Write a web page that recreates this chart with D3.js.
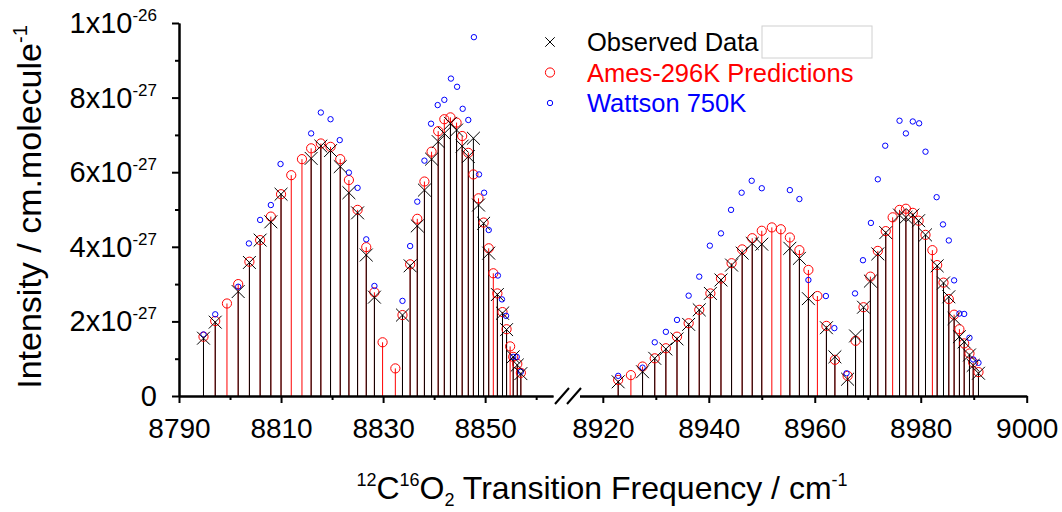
<!DOCTYPE html>
<html>
<head>
<meta charset="utf-8">
<script src="https://cdn.jsdelivr.net/npm/d3@7"></script>
<style>
    body { margin: 0; background: #fff; }
    svg { display: block; font-family: "Liberation Sans", Arial, sans-serif; }
</style>
</head>
<body>
<svg id="chart" width="1062" height="512"></svg>
<script>
// Line positions (cm-1) for the sticks
const freq = [
    8794.8, 8797.1, 8799.4, 8801.6, 8803.8, 8805.9, 8808.0, 8810.0, 8812.0, 8814.1,
    8815.9, 8817.8, 8819.7, 8821.6, 8823.3, 8825.0, 8826.7, 8828.3, 8829.9, 8832.4,
    8833.8, 8835.3, 8836.7, 8838.1, 8839.5, 8840.8, 8842.0, 8843.2, 8844.4, 8845.5,
    8846.7, 8847.7, 8848.7, 8849.7, 8850.7, 8851.6, 8852.4, 8853.4, 8854.2, 8854.9,
    8855.5, 8856.3, 8857.0,
    8922.9, 8925.3, 8927.5, 8929.8, 8931.9, 8934.0, 8936.2, 8938.2, 8940.3, 8942.3,
    8944.3, 8946.3, 8948.2, 8950.0, 8951.9, 8953.6, 8955.3, 8957.1, 8958.8, 8960.5,
    8962.2, 8963.8, 8966.2, 8967.7, 8969.2, 8970.5, 8971.9, 8973.4, 8974.7, 8976.0,
    8977.2, 8978.5, 8979.6, 8980.9, 8982.2, 8983.1, 8984.3, 8985.3, 8986.3, 8987.3,
    8988.2, 8989.2, 8989.9, 8990.9
];

// Observed intensities (x1e-27), null = not observed
const observed = [
    1.55, 1.98, null, 2.80, 3.58, 4.18, 4.67, 5.41, null, null,
    6.37, 6.70, 6.58, 6.15, 5.45, 4.91, 3.78, 2.65, null, null,
    2.17, 3.49, 4.56, 5.52, 6.35, 6.82, 7.04, 7.31, 7.13, 6.70,
    6.42, 6.91, 5.12, 4.63, 3.83, null, 2.72, 2.22, 1.78, null,
    1.05, 0.83, 0.60,
    0.38, null, 0.65, 1.01, 1.26, 1.53, 1.92, 2.31, 2.75, 3.11,
    3.51, 3.83, 4.09, 4.07, null, null, 3.96, 3.69, 2.61, null,
    1.83, 1.05, 0.45, 1.61, 2.38, 3.08, 3.81, 4.38, null, 4.85,
    4.79, 4.85, 4.70, 4.32, null, 3.49, 3.03, 2.66, 2.08, 1.59,
    1.45, 1.10, 0.82, 0.61
];

// Ames-296K predictions (x1e-27)
const ames = [
    1.59, 2.01, 2.48, 3.00, 3.60, 4.18, 4.81, 5.41, 5.92, 6.35,
    6.64, 6.77, 6.68, 6.35, 5.79, 4.99, 3.99, 2.78, 1.44, 0.74,
    2.17, 3.53, 4.75, 5.75, 6.55, 7.10, 7.42, 7.47, 7.33, 6.97,
    6.52, 5.94, 5.30, 4.65, 3.96, 3.29, 2.75, 2.25, 1.79, 1.33,
    1.05, 0.86, 0.62,
    0.43, 0.56, 0.79, 1.01, 1.28, 1.59, 1.95, 2.31, 2.75, 3.15,
    3.56, 3.93, 4.23, 4.43, 4.52, 4.47, 4.25, 3.91, 3.38, 2.68,
    1.88, 0.97, 0.54, 1.48, 2.38, 3.20, 3.89, 4.42, 4.79, 4.99,
    5.02, 4.91, 4.70, 4.32, 3.91, 3.51, 3.04, 2.60, 2.18, 1.79,
    1.41, 1.14, 0.90, 0.64
];

// Wattson 750K points (own positions)
const wattFreq = [
    8794.8, 8797.1, 8801.6, 8803.7, 8805.9, 8808.0, 8809.9, 8815.9, 8817.8, 8819.7,
    8821.5, 8823.3, 8825.0, 8826.7, 8828.3, 8833.8, 8835.3, 8836.7, 8838.1, 8839.4,
    8840.7, 8842.0, 8843.3, 8844.5, 8845.6, 8846.7, 8847.8, 8848.8, 8849.8, 8850.7,
    8852.5, 8853.3, 8854.1, 8855.5, 8856.2, 8857.0,
    8922.9, 8927.5, 8929.8, 8931.9, 8934.0, 8936.2, 8938.2, 8940.2, 8942.3, 8944.2,
    8946.2, 8948.1, 8950.0, 8955.3, 8957.1, 8958.8, 8962.1, 8963.7, 8966.0, 8967.6,
    8969.1, 8970.6, 8971.9, 8973.3, 8976.0, 8977.2, 8978.5, 8979.7, 8980.9, 8983.0,
    8984.2, 8985.3, 8986.3, 8987.3, 8988.2, 8989.2, 8989.9, 8990.9
];
const wattVal = [
    1.65, 2.19, 2.93, 4.09, 4.72, 5.12, 6.22, 7.04, 7.60, 7.42,
    6.86, 5.99, 5.58, 4.20, 2.95, 2.55, 4.02, 5.21, 6.31, 7.30,
    7.80, 7.94, 8.51, 8.29, 7.70, 7.40, 9.62, 5.94, 5.45, 4.45,
    3.23, 2.59, 2.15, 1.05, 1.05, 0.65,
    0.54, 0.76, 1.44, 1.72, 2.04, 2.69, 3.20, 4.03, 4.36, 4.99,
    5.45, 5.77, 5.57, 5.52, 5.28, 3.11, 2.68, 1.82, 0.61, 2.75,
    3.64, 4.64, 5.81, 6.71, 7.38, 7.04, 7.36, 7.31, 6.55, 5.33,
    4.60, 4.17, 3.10, 2.21, 2.20, 1.56, 0.98, 0.89
];

// Axis ticks
const xTicksLeft = [8790, 8810, 8830, 8850];
const xMinorLeft = [8800, 8820, 8840, 8860];
const xTicksRight = [8920, 8940, 8960, 8980, 9000];
const xMinorRight = [8930, 8950, 8970, 8990];
const yTicks = [0, 2, 4, 6, 8, 10];
const yMinor = [1, 3, 5, 7, 9];
const yTickBase = ['0', '2x10', '4x10', '6x10', '8x10', '1x10'];
const yTickExp = ['', '-27', '-27', '-27', '-27', '-26'];

const legendItems = [
    { label: 'Observed Data', color: '#000000', kind: 'cross' },
    { label: 'Ames-296K Predictions', color: '#ff0000', kind: 'big' },
    { label: 'Wattson 750K', color: '#0000ff', kind: 'small' }
];

const svg = d3.select('#chart');

// Broken x axis: two linear pieces
const xL = d3.scaleLinear().domain([8790, 8863.3]).range([179, 553]);
const xR = d3.scaleLinear().domain([8915.6, 9000]).range([579.5, 1026.7]);
const xPos = f => (f < 8880 ? xL(f) : xR(f));
const y = d3.scaleLinear().domain([0, 10]).range([396, 23]);

// Stems: red to Ames value, black to observed on top
const plot = svg.append('g');
plot.append('g').selectAll('line')
    .data(freq.map((f, i) => ({ f, v: ames[i] })))
    .enter().append('line')
    .attr('x1', d => xPos(d.f)).attr('x2', d => xPos(d.f))
    .attr('y1', y(0)).attr('y2', d => y(d.v))
    .attr('stroke', '#ff0000').attr('stroke-width', 1);

plot.append('g').selectAll('line')
    .data(freq.map((f, i) => ({ f, v: observed[i] })).filter(d => d.v !== null))
    .enter().append('line')
    .attr('x1', d => xPos(d.f)).attr('x2', d => xPos(d.f))
    .attr('y1', y(0)).attr('y2', d => y(d.v))
    .attr('stroke', '#000').attr('stroke-width', 1);

// Ames circles
plot.append('g').selectAll('circle')
    .data(freq.map((f, i) => ({ f, v: ames[i] })))
    .enter().append('circle')
    .attr('cx', d => xPos(d.f)).attr('cy', d => y(d.v))
    .attr('r', 4.6).attr('fill', 'none')
    .attr('stroke', '#ff0000').attr('stroke-width', 1);

// Wattson circles
plot.append('g').selectAll('circle')
    .data(wattFreq.map((f, i) => ({ f, v: wattVal[i] })))
    .enter().append('circle')
    .attr('cx', d => xPos(d.f)).attr('cy', d => y(d.v))
    .attr('r', 2.7).attr('fill', 'none')
    .attr('stroke', '#0000ff').attr('stroke-width', 1);

// Observed crosses
const cross = d3.symbol().type(d3.symbolX).size(110);
plot.append('g').selectAll('path')
    .data(freq.map((f, i) => ({ f, v: observed[i] })).filter(d => d.v !== null))
    .enter().append('path')
    .attr('d', cross)
    .attr('transform', d => `translate(${xPos(d.f)},${y(d.v)})`)
    .attr('fill', 'none').attr('stroke', '#000').attr('stroke-width', 1);

// X axes (major and minor ticks in separate groups)
function drawXAxis(scale, major, minor) {
    const gMinor = svg.append('g').attr('transform', `translate(0,${y(0)})`);
    gMinor.call(d3.axisBottom(scale).tickValues(minor).tickSize(4).tickSizeOuter(0).tickFormat(''));
    const g = svg.append('g').attr('transform', `translate(0,${y(0)})`);
    g.call(d3.axisBottom(scale).tickValues(major).tickSize(7).tickSizeOuter(0)
        .tickPadding(15).tickFormat(d3.format('d')));
    [g, gMinor].forEach(a => {
        a.selectAll('.domain').attr('stroke', '#000').attr('stroke-width', 2);
        a.selectAll('.tick line').attr('stroke', '#000').attr('stroke-width', 2);
    });
    g.selectAll('.tick text')
        .attr('font-size', 28).attr('fill', '#000')
        .style('font-family', '"Liberation Sans", Arial, sans-serif');
}
drawXAxis(xL, xTicksLeft, xMinorLeft);
drawXAxis(xR, xTicksRight, xMinorRight);

// Break marks
const breakG = svg.append('g').attr('stroke', '#000').attr('stroke-width', 2);
[555, 567].forEach(x0 => {
    breakG.append('line')
        .attr('x1', x0).attr('y1', 404).attr('x2', x0 + 14).attr('y2', 388);
});

// Y axis
const yMinorG = svg.append('g').attr('transform', `translate(${xL(8790)},0)`);
yMinorG.call(d3.axisLeft(y).tickValues(yMinor).tickSize(4).tickSizeOuter(0).tickFormat(''));
const yG = svg.append('g').attr('transform', `translate(${xL(8790)},0)`);
yG.call(d3.axisLeft(y).tickValues(yTicks).tickSize(7).tickSizeOuter(0).tickFormat(''));
[yG, yMinorG].forEach(a => {
    a.selectAll('.domain').attr('stroke', '#000').attr('stroke-width', 2);
    a.selectAll('.tick line').attr('stroke', '#000').attr('stroke-width', 2);
});

// Y tick labels with superscript exponents
yTicks.forEach((t, i) => {
    const txt = svg.append('text')
        .attr('x', 157).attr('y', y(t) + 10)
        .attr('text-anchor', 'end')
        .attr('font-size', 29)
        .text(yTickBase[i]);
    if (yTickExp[i]) {
        txt.append('tspan').attr('dy', -12).attr('font-size', 17).text(yTickExp[i]);
    }
});

// Axis titles
const yTitle = svg.append('text')
    .attr('transform', 'translate(41,207) rotate(-90)')
    .attr('text-anchor', 'middle')
    .attr('font-size', 34);
yTitle.append('tspan').text('Intensity / cm.molecule');
yTitle.append('tspan').attr('dy', -14).attr('font-size', 20).text('-1');

const xTitle = svg.append('text')
    .attr('x', 602).attr('y', 499)
    .attr('text-anchor', 'middle')
    .attr('font-size', 32);
xTitle.append('tspan').attr('dy', -13).attr('font-size', 18).text('12');
xTitle.append('tspan').attr('dy', 13).text('C');
xTitle.append('tspan').attr('dy', -13).attr('font-size', 18).text('16');
xTitle.append('tspan').attr('dy', 13).text('O');
xTitle.append('tspan').attr('dy', 7).attr('font-size', 18).text('2');
xTitle.append('tspan').attr('dy', -7).text(' Transition Frequency / cm');
xTitle.append('tspan').attr('dy', -13).attr('font-size', 18).text('-1');

// Legend
const legend = svg.append('g');
legend.append('rect')
    .attr('x', 762).attr('y', 26).attr('width', 110).attr('height', 32)
    .attr('fill', 'none').attr('stroke', '#d0d0d0').attr('stroke-width', 1);
legendItems.forEach((d, i) => {
    const cy = 42 + i * 30.5;
    if (d.kind === 'cross') {
        legend.append('path').attr('d', d3.symbol().type(d3.symbolX).size(60))
            .attr('transform', `translate(550,${cy})`)
            .attr('fill', 'none').attr('stroke', d.color).attr('stroke-width', 1);
    } else {
        legend.append('circle').attr('cx', 550).attr('cy', cy)
            .attr('r', d.kind === 'big' ? 4.6 : 2.7)
            .attr('fill', 'none').attr('stroke', d.color).attr('stroke-width', 1);
    }
    legend.append('text')
        .attr('x', 587).attr('y', cy + 9)
        .attr('font-size', 25.5).attr('fill', d.color)
        .text(d.label);
});
</script>
</body>
</html>
